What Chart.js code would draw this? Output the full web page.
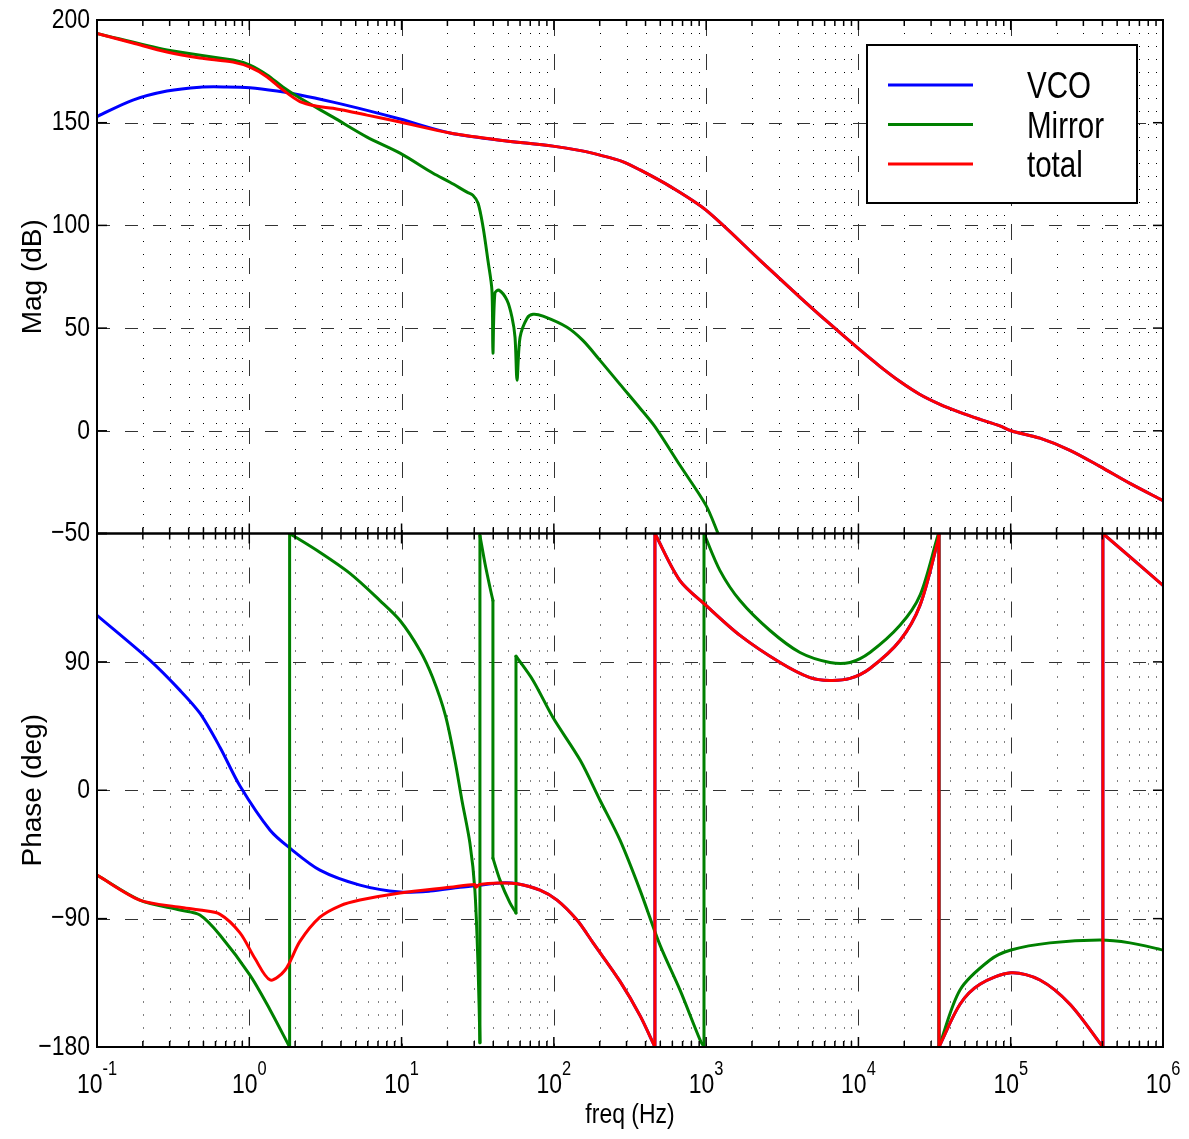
<!DOCTYPE html>
<html>
<head>
<meta charset="utf-8">
<title>Bode plot</title>
<script src="https://cdn.jsdelivr.net/npm/chart.js@4.4.1/dist/chart.umd.min.js"></script>
<style>
  html, body { margin: 0; padding: 0; background: #fff; }
  #bode { display: block; }
</style>
</head>
<body>
<canvas id="bode" width="1189" height="1139"></canvas>
<script>
// values (freq in Hz, magnitude in dB, phase in deg)
const seriesNames = ['VCO', 'Mirror', 'total'];
const seriesColors = ['#0000ff', '#008000', '#ff0000'];

const vcoMagFreq = [0.1, 0.172, 0.288, 0.474, 0.714, 1.01, 1.52, 2.15, 3.55, 5.93, 9.77, 20.8, 44.3, 98.7, 150, 201, 280, 368, 579, 998, 2260, 4133, 6500, 9930, 13830, 18750, 25360, 34300, 46450, 62800, 84900, 100400, 155600, 245000, 385000, 607000, 1e6];
const vcoMag = [153, 161, 165.4, 167.3, 167.4, 167, 165.4, 163.5, 160, 156, 151.8, 145, 141.5, 138.6, 136.4, 134.2, 131.2, 127, 119, 107.4, 83, 65, 52, 40.2, 31.4, 24, 17.7, 12.9, 9, 5.6, 2.4, 0, -3.6, -9.5, -17.3, -25.6, -34];

const mirrorMagFreq = [0.1, 0.288, 0.782, 1.01, 1.31, 1.66, 2.15, 3.55, 5.93, 9.77, 16.1, 20.8, 26.9, 29.4, 31.8, 34.3, 36.9, 39.2, 39.8, 41.0, 43.6, 49.2, 53.1, 55.6, 57.3, 60.0, 66.7, 73.0, 84.9, 122, 155, 201, 272, 368, 461, 673, 998, 1197];
const mirrorMag = [193.5, 185.4, 180.5, 178, 173.2, 167.4, 162, 152.7, 143, 135.2, 125.4, 121, 116.2, 114.7, 110.8, 99.1, 83, 68.5, 37.8, 67, 68.5, 63.6, 55.3, 45.5, 24.6, 45.5, 54.8, 56.7, 55.8, 50.4, 44, 34.3, 22.6, 11, 2, -16.8, -36.3, -50];

const totalMagFreq = [0.1, 0.172, 0.288, 0.474, 0.782, 1.01, 1.31, 1.66, 2.15, 2.79, 3.55, 5.93, 9.77, 20.8, 44.3, 98.7, 150, 201, 280, 368, 579, 998, 2260, 4133, 6500, 9930, 13830, 18750, 25360, 34300, 46450, 62800, 84900, 100400, 155600, 245000, 385000, 607000, 1e6];
const totalMag = [193.5, 188.8, 184.4, 181.5, 179.5, 177, 172.3, 166, 160.3, 158, 157, 153.7, 150.3, 145, 141.5, 138.6, 136.4, 134.2, 131.2, 127, 119, 107.4, 83, 65, 52, 40.2, 31.4, 24, 17.7, 12.9, 9, 5.6, 2.4, 0, -3.6, -9.5, -17.3, -25.6, -34];

const vcoPhFreq = [0.1, 0.223, 0.351, 0.474, 0.643, 0.869, 1.37, 1.85, 2.91, 5.33, 9.77, 15.4, 24.2, 30.3, 44.3, 57.3, 81.1, 105, 142, 181, 272, 368, 461, 461, 673, 998, 1668, 3057, 4808, 6500, 8810, 11900, 18750, 25360, 33270, 33800, 33800, 46450, 62800, 100400, 155600, 245000, 403000, 403000, 1e6];
const vcoPh = [122.6, 91, 70, 54, 30, 3, -28, -40.6, -56, -66.5, -71.4, -70.7, -68, -67, -65, -65.5, -70, -77, -91, -107, -134, -158, -180, 180, 147, 129.6, 108.6, 89.6, 79, 77, 78.4, 85.4, 105, 129.6, 175, 180, -180, -150, -136, -128, -133, -150, -180, 180, 143.6];

const mirrorPhFreq = [0.1, 0.191, 0.351, 0.474, 0.643, 1.01, 1.37, 1.84, 1.84, 2.79, 4.58, 7.21, 9.77, 13.2, 16.0, 19.4, 22.4, 24.9, 28.1, 30.3, 31.8, 32.7, 32.7, 35.3, 38.1, 39.8, 39.8, 44.3, 51.5, 56.4, 56.4, 73.0, 98.7, 149, 201, 272, 368, 498, 673, 912, 968, 968, 1233, 1668, 2626, 4133, 6500, 8810, 11900, 18750, 25360, 33270, 33800, 33800, 46450, 73100, 100400, 181000, 385000, 607000, 1e6];
const mirrorPh = [-59.5, -77, -84, -87.5, -101.6, -129.6, -154, -180, 180, 168, 152, 133, 119, 98, 79, 52.5, 21, -7, -37, -70, -124, -177, 178.6, 159, 142, 133, -47.6, -63, -79, -86, 94, 77, 51, 21, -7, -35, -70, -108.6, -140, -175, -180, 180, 154, 133, 112, 96.6, 89.6, 89.6, 96.6, 115.6, 136.6, 178.6, 180, -180, -140, -119, -112, -107, -105, -107, -112];

const totalPhFreq = [0.1, 0.191, 0.351, 0.474, 0.643, 0.869, 1.09, 1.37, 1.72, 2.15, 2.91, 3.94, 5.33, 9.77, 20.8, 30.3, 30.8, 32.7, 44.3, 57.3, 81.1, 105, 142, 181, 272, 368, 461, 461, 673, 998, 1668, 3057, 4808, 6500, 8810, 11900, 18750, 25360, 33270, 33800, 33800, 46450, 62800, 100400, 155600, 245000, 403000, 403000, 1e6];
const totalPh = [-59.5, -77, -82, -84, -87, -100, -118, -133, -126, -106, -89, -81, -77, -72, -68, -66, -68, -66, -65, -65.5, -70, -77, -91, -107, -134, -158, -180, 180, 147, 129.6, 108.6, 89.6, 79, 77, 78.4, 85.4, 105, 129.6, 175, 180, -180, -150, -136, -128, -133, -150, -180, 180, 143.6];

// tick labels
const decadeTicks = [0.1, 1, 10, 100, 1e3, 1e4, 1e5, 1e6];
const decadeExp = ['-1', '0', '1', '2', '3', '4', '5', '6'];
const magTicks = [-50, 0, 50, 100, 150, 200];
const phaseTicks = [-180, -90, 0, 90, 180];

const FONT = "'Liberation Sans', Arial, sans-serif";
const SQUEEZE = 0.82; // the figure's text is tall and narrow

// minor log ticks 2..9 in every decade
const minorTicks = [];
for (let i = 0; i < decadeTicks.length - 1; i++) {
    for (let k = 2; k <= 9; k++) minorTicks.push(decadeTicks[i] * k);
}

function fmtTick(v) {
    return String(v).replace('-', '\u2212');
}

function strokeLine(ctx, x1, y1, x2, y2) {
    ctx.beginPath();
    ctx.moveTo(x1, y1);
    ctx.lineTo(x2, y2);
    ctx.stroke();
}

// condensed text: plain font squeezed horizontally around the anchor
function narrowText(ctx, text, x, y, size, align, baseline) {
    ctx.save();
    ctx.font = size + 'px ' + FONT;
    ctx.textAlign = align;
    ctx.textBaseline = baseline;
    ctx.translate(x, y);
    ctx.scale(SQUEEZE, 1);
    ctx.fillText(text, 0, 0);
    ctx.restore();
}

function narrowWidth(ctx, text, size) {
    ctx.save();
    ctx.font = size + 'px ' + FONT;
    const w = ctx.measureText(text).width * SQUEEZE;
    ctx.restore();
    return w;
}

function makeSet(label, color, axis, points, order) {
    return {
        label: label,
        data: points,
        yAxisID: axis,
        borderColor: color,
        backgroundColor: color,
        borderWidth: 3,
        borderCapStyle: 'round',
        borderJoinStyle: 'round',
        pointRadius: 0,
        tension: 0.3,
        fill: false,
        order: order
    };
}

// a repeated frequency means a vertical jump (phase wrap or notch):
// the smooth pieces and the straight jumps become separate datasets
function seriesSets(label, color, axis, freqs, values, order) {
    const sets = [];
    let branch = [];
    freqs.forEach((f, i) => {
        if (i > 0 && f === freqs[i - 1]) {
            sets.push(makeSet(label, color, axis, branch, order));
            sets.push(makeSet(label, color, axis, [{ x: f, y: values[i - 1] }, { x: f, y: values[i] }], order));
            branch = [];
        }
        branch.push({ x: f, y: values[i] });
    });
    sets.push(makeSet(label, color, axis, branch, order));
    return sets;
}

// grid, boxes, inner ticks, labels and legend in MATLAB style
const bodeFrame = {
    id: 'bodeFrame',
    beforeDatasetsDraw(chart) {
        const { ctx, scales } = chart;
        const x = scales.x;
        ctx.save();
        ctx.lineWidth = 1;
        [[scales.yMag, magTicks], [scales.yPh, phaseTicks]].forEach(([y, ticks]) => {
            ctx.strokeStyle = '#000';
            ctx.setLineDash([1, 12]);
            minorTicks.forEach(f => {
                const px = Math.round(x.getPixelForValue(f)) + 0.5;
                strokeLine(ctx, px, y.top, px, y.bottom);
            });
            ctx.strokeStyle = '#333';
            ctx.setLineDash([16, 18]);
            decadeTicks.slice(1, -1).forEach(f => {
                const px = Math.round(x.getPixelForValue(f)) + 0.5;
                strokeLine(ctx, px, y.top, px, y.bottom);
            });
            ctx.setLineDash([13, 15]);
            ticks.forEach(v => {
                if (v <= y.min || v >= y.max) return;
                const py = Math.round(y.getPixelForValue(v)) + 0.5;
                strokeLine(ctx, x.left, py, x.right, py);
            });
        });
        ctx.restore();
    },
    afterDatasetsDraw(chart) {
        const { ctx, scales } = chart;
        const x = scales.x;
        const area = chart.chartArea;
        ctx.save();
        ctx.setLineDash([]);
        ctx.strokeStyle = '#000';
        ctx.fillStyle = '#000';
        [[scales.yMag, magTicks], [scales.yPh, phaseTicks]].forEach(([y, ticks]) => {
            ctx.lineWidth = 1.5;
            minorTicks.forEach(f => {
                const px = x.getPixelForValue(f);
                strokeLine(ctx, px, y.top, px, y.top + 6);
                strokeLine(ctx, px, y.bottom, px, y.bottom - 6);
            });
            decadeTicks.forEach(f => {
                const px = x.getPixelForValue(f);
                strokeLine(ctx, px, y.top, px, y.top + 10);
                strokeLine(ctx, px, y.bottom, px, y.bottom - 10);
            });
            ticks.forEach(v => {
                const py = y.getPixelForValue(v);
                strokeLine(ctx, x.left, py, x.left + 10, py);
                strokeLine(ctx, x.right, py, x.right - 10, py);
            });
            ctx.lineWidth = 2;
            ctx.strokeRect(x.left, y.top, x.right - x.left, y.bottom - y.top);
        });

        // y tick labels (the phase 180 label sits under the magnitude -50)
        magTicks.forEach(v => {
            narrowText(ctx, fmtTick(v), x.left - 7, scales.yMag.getPixelForValue(v), 28, 'right', 'middle');
        });
        phaseTicks.forEach(v => {
            if (v === 180) return;
            narrowText(ctx, fmtTick(v), x.left - 7, scales.yPh.getPixelForValue(v), 28, 'right', 'middle');
        });

        // x tick labels 10^n
        decadeTicks.forEach((f, i) => {
            const px = x.getPixelForValue(f);
            const w1 = narrowWidth(ctx, '10', 28);
            const w2 = narrowWidth(ctx, decadeExp[i], 20);
            const start = px - (w1 + w2) / 2;
            narrowText(ctx, '10', start, area.bottom + 46, 28, 'left', 'alphabetic');
            narrowText(ctx, decadeExp[i], start + w1, area.bottom + 28, 20, 'left', 'alphabetic');
        });

        // x axis title
        narrowText(ctx, 'freq (Hz)', (x.left + x.right) / 2, area.bottom + 76, 28, 'center', 'alphabetic');

        // legend box
        const bw = 270, bh = 158;
        const bx = area.right - 26 - bw;
        const by = area.top + 25;
        ctx.fillStyle = '#fff';
        ctx.fillRect(bx, by, bw, bh);
        ctx.lineWidth = 2;
        ctx.strokeRect(bx, by, bw, bh);
        seriesNames.forEach((name, i) => {
            const ly = by + 40 + i * 39.5;
            ctx.strokeStyle = seriesColors[i];
            ctx.lineWidth = 3;
            strokeLine(ctx, bx + 21, ly, bx + 106, ly);
            ctx.fillStyle = '#000';
            narrowText(ctx, name, bx + 160, ly + 13, 36, 'left', 'alphabetic');
        });
        ctx.restore();
    }
};

const ctx = document.getElementById('bode').getContext('2d');

const datasets = [].concat(
    seriesSets(seriesNames[0], seriesColors[0], 'yMag', vcoMagFreq, vcoMag, 3),
    seriesSets(seriesNames[1], seriesColors[1], 'yMag', mirrorMagFreq, mirrorMag, 2),
    seriesSets(seriesNames[2], seriesColors[2], 'yMag', totalMagFreq, totalMag, 1),
    seriesSets(seriesNames[0], seriesColors[0], 'yPh', vcoPhFreq, vcoPh, 3),
    seriesSets(seriesNames[1], seriesColors[1], 'yPh', mirrorPhFreq, mirrorPh, 2),
    seriesSets(seriesNames[2], seriesColors[2], 'yPh', totalPhFreq, totalPh, 1)
);

new Chart(ctx, {
    type: 'line',
    data: { datasets: datasets },
    options: {
        responsive: false,
        animation: false,
        devicePixelRatio: 1,
        layout: { padding: { left: 0, top: 20, right: 26, bottom: 0 } },
        plugins: {
            legend: { display: false },
            tooltip: { enabled: false }
        },
        scales: {
            x: {
                type: 'logarithmic',
                position: 'bottom',
                min: 0.1,
                max: 1e6,
                grid: { display: false },
                border: { display: false },
                ticks: { display: false },
                afterFit(scale) { scale.height = 92; }
            },
            yPh: {
                type: 'linear',
                position: 'left',
                stack: 'bode',
                stackWeight: 1,
                min: -180,
                max: 180,
                grid: { display: false },
                border: { display: false },
                ticks: { display: false, stepSize: 90 },
                title: {
                    display: true,
                    text: 'Phase (deg)',
                    color: '#000',
                    font: { family: FONT, size: 28 },
                    padding: { top: 16, bottom: 0 }
                },
                afterFit(scale) { scale.width = 97; }
            },
            yMag: {
                type: 'linear',
                position: 'left',
                stack: 'bode',
                stackWeight: 1,
                min: -50,
                max: 200,
                grid: { display: false },
                border: { display: false },
                ticks: { display: false, stepSize: 50 },
                title: {
                    display: true,
                    text: 'Mag (dB)',
                    color: '#000',
                    font: { family: FONT, size: 28 },
                    padding: { top: 16, bottom: 0 }
                },
                afterFit(scale) { scale.width = 97; }
            }
        }
    },
    plugins: [bodeFrame]
});
</script>
</body>
</html>
